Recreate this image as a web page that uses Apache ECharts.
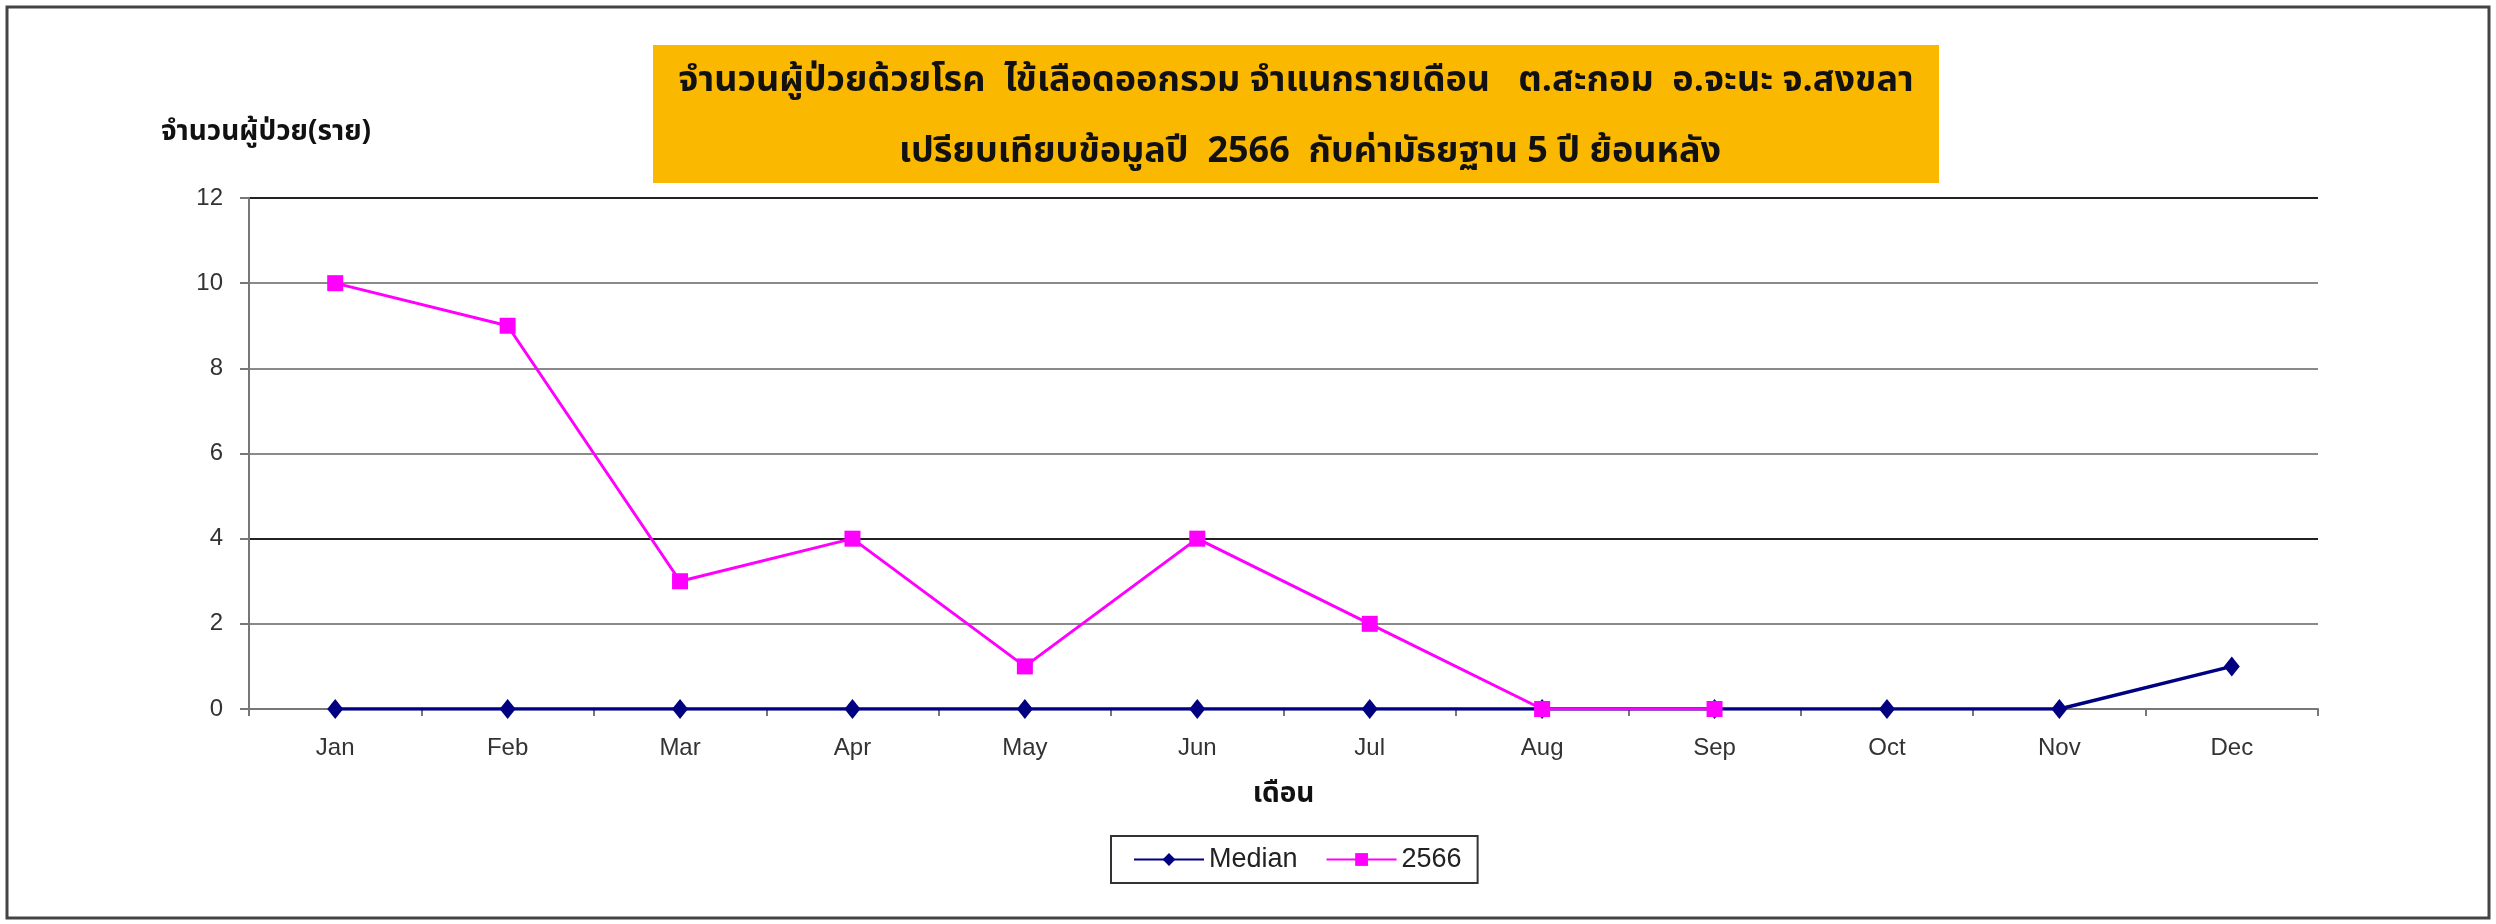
<!DOCTYPE html>
<html>
<head>
<meta charset="utf-8">
<script src="https://cdn.jsdelivr.net/npm/echarts@6/dist/echarts.min.js"></script>
<style>
html,body{margin:0;padding:0;background:#fff;}
#chart{width:2496px;height:924px;}
</style>
</head>
<body>
<div id="chart"></div>
<script>
const months = ['Jan','Feb','Mar','Apr','May','Jun','Jul','Aug','Sep','Oct','Nov','Dec'];
const medianValues = [0,0,0,0,0,0,0,0,0,0,0,1];
const year2566Values = [10,9,3,4,1,4,2,0,0,null,null,null];
const seriesNames = ['Median','2566'];
const titleLine1 = 'จำนวนผู้ป่วยด้วยโรค  ไข้เลือดออกรวม จำแนกรายเดือน   ต.สะกอม  อ.จะนะ จ.สงขลา';
const titleLine2 = 'เปรียบเทียบข้อมูลปี  2566  กับค่ามัธยฐาน 5 ปี ย้อนหลัง';
const yAxisTitle = 'จำนวนผู้ป่วย(ราย)';
const xAxisTitle = 'เดือน';

const thaiFont = '"Noto Sans Thai","Noto Sans","Liberation Sans",sans-serif';
const latinFont = '"Liberation Sans",Arial,sans-serif';

const chart = echarts.init(document.getElementById('chart'), null, {renderer:'canvas'});
chart.setOption({
  backgroundColor:'#ffffff',
  animation:false,
  grid:{left:249, top:198, right:178, bottom:215, containLabel:false},
  graphic:[
    {type:'rect', shape:{x:7,y:7,width:2482,height:911}, style:{fill:'none', stroke:'#444', lineWidth:3}, z:0},
    {type:'rect', shape:{x:653,y:45,width:1286,height:138}, style:{fill:'#FBB800', stroke:'none'}, z:1},
    {type:'text', x:1296, y:84, z:2, style:{text:titleLine1, font:'bold 36px '+thaiFont, fill:'#111', align:'center', verticalAlign:'middle'}},
    {type:'text', x:1310, y:155, z:2, style:{text:titleLine2, font:'bold 36px '+thaiFont, fill:'#111', align:'center', verticalAlign:'middle'}}
  ],
  legend:{
    data:seriesNames,
    left:1111, top:836,
    orient:'horizontal',
    backgroundColor:'#fff',
    borderColor:'#333', borderWidth:2,
    padding:[10,16,10,22],
    itemGap:28,
    itemWidth:70, itemHeight:16,
    textStyle:{fontFamily:latinFont, fontSize:27, color:'#222'}
  },
  xAxis:{
    type:'category',
    data:months,
    boundaryGap:true,
    name:xAxisTitle,
    nameLocation:'middle',
    nameGap:73,
    nameTextStyle:{fontFamily:thaiFont, fontWeight:'bold', fontSize:28, color:'#111'},
    axisLine:{show:true, lineStyle:{color:'#777', width:2}},
    axisTick:{show:true, length:7, lineStyle:{color:'#777', width:2}},
    axisLabel:{fontFamily:latinFont, fontSize:24, color:'#333', margin:27},
    splitLine:{show:false}
  },
  yAxis:{
    type:'value',
    min:0, max:12, interval:2,
    name:yAxisTitle,
    nameLocation:'end',
    nameGap:50,
    nameTextStyle:{fontFamily:thaiFont, fontWeight:'bold', fontSize:28, color:'#111', padding:[0,0,0,34]},
    axisLine:{show:true, lineStyle:{color:'#777', width:2}},
    axisTick:{show:true, inside:false, length:9, lineStyle:{color:'#777', width:2}},
    axisLabel:{fontFamily:latinFont, fontSize:24, color:'#333', margin:26},
    splitLine:{show:true, lineStyle:{color:['#8a8a8a','#8a8a8a','#222','#8a8a8a','#8a8a8a','#8a8a8a','#222'], width:2}}
  },
  series:[
    {
      name:seriesNames[0], type:'line', data:medianValues,
      symbol:'diamond', symbolSize:[16,20],
      lineStyle:{color:'#000080', width:3.5},
      itemStyle:{color:'#000080'},
      z:2
    },
    {
      name:seriesNames[1], type:'line', data:year2566Values,
      connectNulls:false,
      symbol:'rect', symbolSize:16,
      lineStyle:{color:'#FF00FF', width:3},
      itemStyle:{color:'#FF00FF'},
      z:3
    }
  ]
});
</script>
</body>
</html>
